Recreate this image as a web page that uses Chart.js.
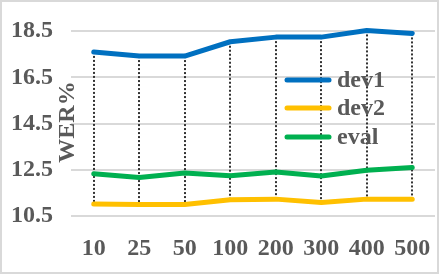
<!DOCTYPE html>
<html>
<head>
<meta charset="utf-8">
<script src="https://cdn.jsdelivr.net/npm/chart.js@4"></script>
<style>
  body { margin: 0; background: #fff; }
  #wrap { width: 439px; height: 274px; position: relative; }
</style>
</head>
<body>
<div id="wrap"><canvas id="werChart"></canvas></div>
<script>
var categories = ["10", "25", "50", "100", "200", "300", "400", "500"];
var dev1Values = [17.6, 17.42, 17.42, 18.04, 18.24, 18.24, 18.53, 18.4];
var dev2Values = [11.02, 11.0, 11.0, 11.2, 11.23, 11.08, 11.23, 11.23];
var evalValues = [12.33, 12.17, 12.36, 12.24, 12.4, 12.23, 12.48, 12.6];
var yTicks = [10.5, 12.5, 14.5, 16.5, 18.5];

var textColor = "#595959";
var fontFam = "'Liberation Serif', 'Times New Roman', serif";

// white background + grey frame
var framePlugin = {
    id: "frame",
    beforeDraw: function(chart) {
        var c = chart.ctx;
        c.save();
        c.fillStyle = "#fff";
        c.fillRect(0, 0, chart.width, chart.height);
        c.strokeStyle = "#d9d9d9";
        c.lineWidth = 2;
        c.strokeRect(1, 1, chart.width - 2, chart.height - 2);
        c.restore();
    }
};

// dotted high-low lines between dev1 and dev2
var hiLoPlugin = {
    id: "hiLo",
    beforeDatasetsDraw: function(chart) {
        var top = chart.getDatasetMeta(0).data;
        var bot = chart.getDatasetMeta(1).data;
        var c = chart.ctx;
        c.save();
        c.strokeStyle = "#333";
        c.lineWidth = 2;
        c.setLineDash([2, 2]);
        for (var i = 0; i < top.length; i++) {
            c.beginPath();
            c.moveTo(Math.round(top[i].x), top[i].y);
            c.lineTo(Math.round(top[i].x), bot[i].y);
            c.stroke();
        }
        c.restore();
    }
};

// axis title sits between tick labels and plot, legend inside the plot
var labelsPlugin = {
    id: "labels",
    afterDatasetsDraw: function(chart) {
        var c = chart.ctx;
        c.save();
        c.fillStyle = textColor;
        c.font = "bold 24px " + fontFam;
        c.textAlign = "center";
        c.textBaseline = "middle";
        c.translate(68, 122);
        c.rotate(-Math.PI / 2);
        c.fillText("WER%", 0, 0);
        c.restore();

        var rows = [80, 108, 137];
        c.save();
        c.font = "bold 24px " + fontFam;
        c.textBaseline = "middle";
        c.textAlign = "left";
        chart.data.datasets.forEach(function(ds, i) {
            c.strokeStyle = ds.borderColor;
            c.lineWidth = 5;
            c.lineCap = "round";
            c.beginPath();
            c.moveTo(287, rows[i]);
            c.lineTo(329, rows[i]);
            c.stroke();
            c.fillStyle = textColor;
            c.fillText(ds.label, 337, rows[i] + 1);
        });
        c.restore();
    }
};

function noPad(scale) {
    scale.paddingTop = 0;
    scale.paddingBottom = 0;
    scale.paddingLeft = 0;
    scale.paddingRight = 0;
}

var ctx = document.getElementById("werChart").getContext("2d");
var myChart = new Chart(ctx, {
    type: "line",
    data: {
        labels: categories,
        datasets: [{
            label: "dev1",
            data: dev1Values,
            borderColor: "#0070C0"
        }, {
            label: "dev2",
            data: dev2Values,
            borderColor: "#FFC000"
        }, {
            label: "eval",
            data: evalValues,
            borderColor: "#00B050"
        }]
    },
    options: {
        responsive: true,
        maintainAspectRatio: false,
        animation: false,
        layout: {
            padding: { top: 8, right: 4, left: 0, bottom: 0 }
        },
        elements: {
            line: { borderWidth: 5, tension: 0, borderCapStyle: "round", borderJoinStyle: "round" },
            point: { radius: 0 }
        },
        plugins: {
            legend: { display: false },
            tooltip: { enabled: false }
        },
        scales: {
            x: {
                offset: true,
                grid: { display: false, drawTicks: false },
                border: { display: false },
                ticks: {
                    color: textColor,
                    padding: 18,
                    maxRotation: 0,
                    autoSkip: false,
                    font: { family: fontFam, size: 24, weight: "bold" }
                },
                afterFit: function(scale) { scale.height = 58; noPad(scale); }
            },
            y: {
                min: 10.5,
                max: 19.5,
                grid: { color: "#d9d9d9", lineWidth: 2, drawTicks: false },
                border: { display: false },
                ticks: {
                    color: textColor,
                    padding: 18,
                    font: { family: fontFam, size: 24, weight: "bold" },
                    callback: function(v) { return v.toFixed(1); }
                },
                afterBuildTicks: function(scale) {
                    scale.ticks = yTicks.map(function(v) { return { value: v }; });
                },
                afterFit: function(scale) { scale.width = 71; noPad(scale); }
            }
        }
    },
    plugins: [framePlugin, hiLoPlugin, labelsPlugin]
});
</script>
</body>
</html>
